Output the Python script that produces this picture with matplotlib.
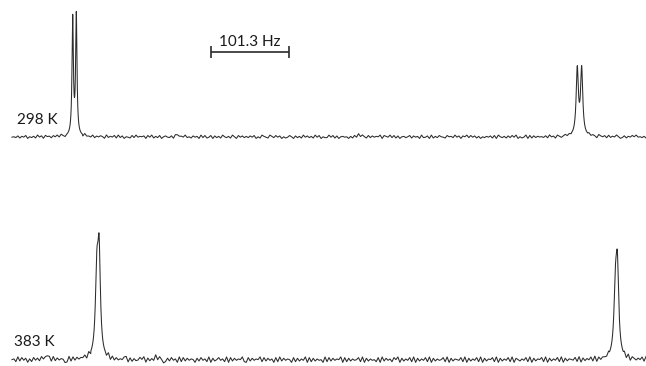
import numpy as np
import matplotlib
matplotlib.use("Agg")
import matplotlib.pyplot as plt

# ---------------- data ----------------
HZ_PER_PX = 101.3 / 78.0          # spectral scale of the drawing
x_start_hz, x_end_hz = 15.5, 839.0  # spectral window shown
scale_bar_hz = 101.3
scale_bar_start_hz = 274.0
scale_bar_label = "101.3 Hz"

temperatures = ["298 K", "383 K"]

# peaks: position (Hz), height, half width (Hz)
peaks_298_pos = [94.4, 99.1, 749.7, 755.4, 230.0, 466.0]
peaks_298_height = [117.0, 120.0, 66.0, 66.0, 3.5, 2.5]
peaks_298_hwhm = [1.05, 1.05, 1.7, 1.7, 1.3, 1.3]

peaks_383_pos = [128.7, 125.8, 801.8, 799.3, 61.0, 201.5]
peaks_383_height = [96.0, 80.0, 80.0, 62.0, 7.5, 3.5]
peaks_383_hwhm = [2.0, 2.2, 2.1, 2.3, 1.3, 1.3]

# baseline noise read as digits (0..9)
noise_298 = ("4537264815362947185627483951625837261945382647519"
             "3648293715428394657184926381574371825649352746193"
             "8248173629536295184736374815296429638471524851736"
             "2947362948153394827156451628374952837465918649382"
             "7156358274619347192638542856394717593847261536472"
             "8195362738491524918273645372946185258473629142638"
             "47519647283649513726485945362")
noise_383 = ("5629384716284739561829374650192837465829173645382"
             "9172635489172634859173628495027384619283746517384"
             "6291735846291837465921837465928374618293746518273"
             "6491827364519283746591827364582917364528193746285"
             "9173648291736482917364582917365482917364829173658"
             "2917364829175364829173658291736482917365482917364"
             "82917365482917364829175364829")

baseline_px = [137.0, 360.0]
noise_amp = [0.42, 0.68]

# ---------------- drawing ----------------
W, H = 646, 366
fig = plt.figure(figsize=(W / 100, H / 100), dpi=100)
ax = fig.add_axes([0, 0, 1, 1])
ax.set_xlim(0, W * HZ_PER_PX)
ax.set_ylim(H, 0)
ax.axis("off")

def lorentz(x, pos, hgt, hw):
    y = np.zeros_like(x)
    for p, h, w in zip(pos, hgt, hw):
        y += h * w**2 / (w**2 + (x - p) ** 2)
    return y

def trace(pos, hgt, hw, noise_str, amp):
    digits = np.array([int(c) for c in noise_str], dtype=float)
    xc = np.linspace(x_start_hz, x_end_hz, len(digits))
    nz = (digits - 4.5) * amp
    # dense windows around main peaks
    win = 6.0 * HZ_PER_PX
    main = [p for p, h in zip(pos, hgt) if h > 20]
    keep = np.ones_like(xc, dtype=bool)
    dense = []
    for p in main:
        keep &= np.abs(xc - p) > win
        dense.append(np.arange(p - win, p + win, 0.05))
    xd = np.concatenate(dense)
    x = np.concatenate([xc[keep], xd])
    n = np.concatenate([nz[keep], np.zeros_like(xd)])
    order = np.argsort(x)
    x, n = x[order], n[order]
    return x, lorentz(x, pos, hgt, hw) + n

col = "#2b2b2b"
sets = [(peaks_298_pos, peaks_298_height, peaks_298_hwhm, noise_298),
        (peaks_383_pos, peaks_383_height, peaks_383_hwhm, noise_383)]
for i, (pos, hgt, hw, nstr) in enumerate(sets):
    x, y = trace(pos, hgt, hw, nstr, noise_amp[i])
    ax.plot(x, baseline_px[i] - y, color=col, lw=0.75)

font = dict(family=["Lato", "DejaVu Sans"], fontsize=11, color="#1a1a1a")
ax.text(17 * HZ_PER_PX, 120, temperatures[0], ha="left", va="center", **font)
ax.text(14 * HZ_PER_PX, 342, temperatures[1], ha="left", va="center", **font)

# scale bar
x0 = scale_bar_start_hz
x1 = x0 + scale_bar_hz
ax.plot([x0, x1], [51.7, 51.7], color=col, lw=1.2, solid_capstyle="butt")
ax.plot([x0, x0], [45.5, 57.5], color=col, lw=1.2, solid_capstyle="butt")
ax.plot([x1, x1], [45.5, 57.5], color=col, lw=1.2, solid_capstyle="butt")
ax.text((x0 + x1) / 2, 41.5, scale_bar_label, ha="center", va="center", **font)

fig.savefig("out.png", dpi=100)
